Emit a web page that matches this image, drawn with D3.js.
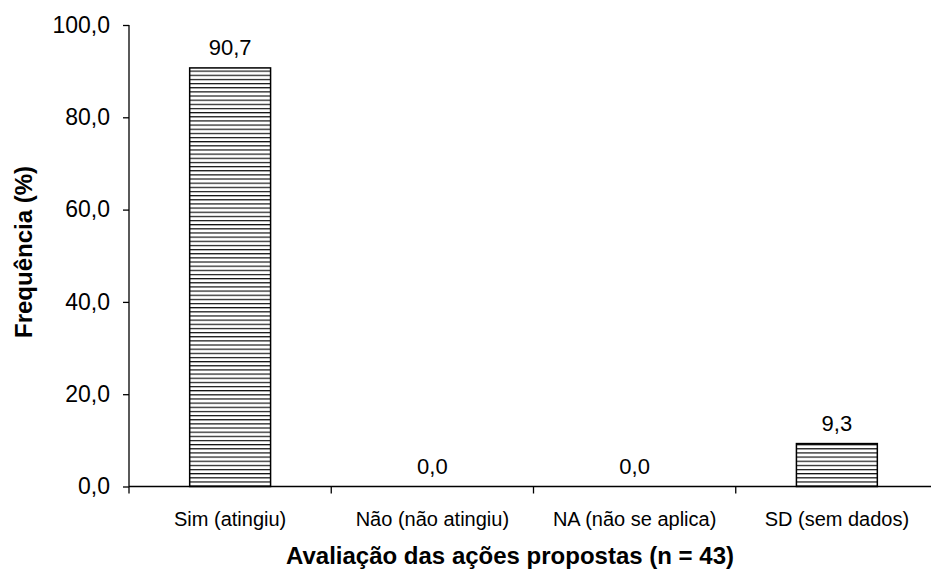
<!DOCTYPE html>
<html>
<head>
<meta charset="utf-8">
<script src="https://cdn.jsdelivr.net/npm/d3@7"></script>
<style>
  html, body { margin: 0; padding: 0; background: #fff; }
  svg { display: block; font-family: "Liberation Sans", Arial, sans-serif; }
</style>
</head>
<body>
<svg id="chart" width="931" height="573"></svg>
<script>
const categories = ["Sim (atingiu)", "Não (não atingiu)", "NA (não se aplica)", "SD (sem dados)"];
const values = [90.7, 0.0, 0.0, 9.3];
const yTicks = [0, 20, 40, 60, 80, 100];
const xTitle = "Avaliação das ações propostas (n = 43)";
const yTitle = "Frequência (%)";

const svg = d3.select("#chart");
const fmt = v => v.toFixed(1).replace(".", ",");

const x = d3.scaleBand().domain(categories).range([129, 938]).paddingInner(0).paddingOuter(0);
const y = d3.scaleLinear().domain([0, 100]).range([486.5, 25]);
const barFrac = 0.4;

// pattern
const defs = svg.append("defs");
const pat = defs.append("pattern").attr("id", "hstripe")
  .attr("patternUnits", "userSpaceOnUse").attr("width", 8).attr("height", 4.15);
pat.append("rect").attr("width", 8).attr("height", 4.15).attr("fill", "#fff");
pat.append("line").attr("x1", 0).attr("x2", 8).attr("y1", 0.6).attr("y2", 0.6)
  .attr("stroke", "#111").attr("stroke-width", 1.2);

// bars
svg.append("g").selectAll("rect").data(categories.map((c, i) => ({c, v: values[i]})))
  .enter().filter(d => d.v > 0).append("rect")
  .attr("x", d => x(d.c) + x.bandwidth() * (1 - barFrac) / 2)
  .attr("width", x.bandwidth() * barFrac)
  .attr("y", d => y(d.v))
  .attr("height", d => y(0) - y(d.v))
  .attr("fill", "url(#hstripe)")
  .attr("stroke", "#000").attr("stroke-width", 1.5);

// y axis
const yAxis = d3.axisLeft(y).tickValues(yTicks).tickSize(6).tickPadding(13).tickFormat(fmt);
const gy = svg.append("g").attr("transform", "translate(129,0)").call(yAxis);
gy.select(".domain").attr("d", `M0,${y(100)}V${y(0)}`).attr("stroke", "#000").attr("stroke-width", 1.3);
gy.selectAll(".tick line").attr("stroke", "#000").attr("stroke-width", 1.3);
gy.selectAll(".tick text").attr("font-size", 23).attr("fill", "#000")
  .attr("font-family", "Liberation Sans, Arial, sans-serif");

// x axis
const gx = svg.append("g").attr("transform", `translate(0,${y(0)})`);
gx.append("line").attr("x1", 129).attr("x2", 938).attr("stroke", "#000").attr("stroke-width", 1.3);
const boundaries = categories.map(c => x(c)).concat([x.range()[1]]);
gx.selectAll(".xt").data(boundaries).enter().append("line")
  .attr("x1", d => d).attr("x2", d => d).attr("y1", 0).attr("y2", 7)
  .attr("stroke", "#000").attr("stroke-width", 1.3);
gx.selectAll(".xl").data(categories).enter().append("text")
  .attr("x", d => x(d) + x.bandwidth() / 2).attr("y", 526 - y(0))
  .attr("text-anchor", "middle").attr("font-size", 20).attr("fill", "#000")
  .text(d => d);

// value labels
svg.append("g").selectAll("text").data(categories.map((c, i) => ({c, v: values[i]})))
  .enter().append("text")
  .attr("x", d => x(d.c) + x.bandwidth() / 2)
  .attr("y", d => y(d.v) - 13)
  .attr("text-anchor", "middle").attr("font-size", 22).attr("fill", "#000")
  .text(d => fmt(d.v));

// titles
svg.append("text").attr("x", 510).attr("y", 564).attr("text-anchor", "middle")
  .attr("font-size", 24).attr("font-weight", "bold").attr("fill", "#000").text(xTitle);
svg.append("text").attr("transform", "translate(32,252) rotate(-90)").attr("text-anchor", "middle")
  .attr("font-size", 24).attr("font-weight", "bold").attr("fill", "#000").text(yTitle);
</script>
</body>
</html>
